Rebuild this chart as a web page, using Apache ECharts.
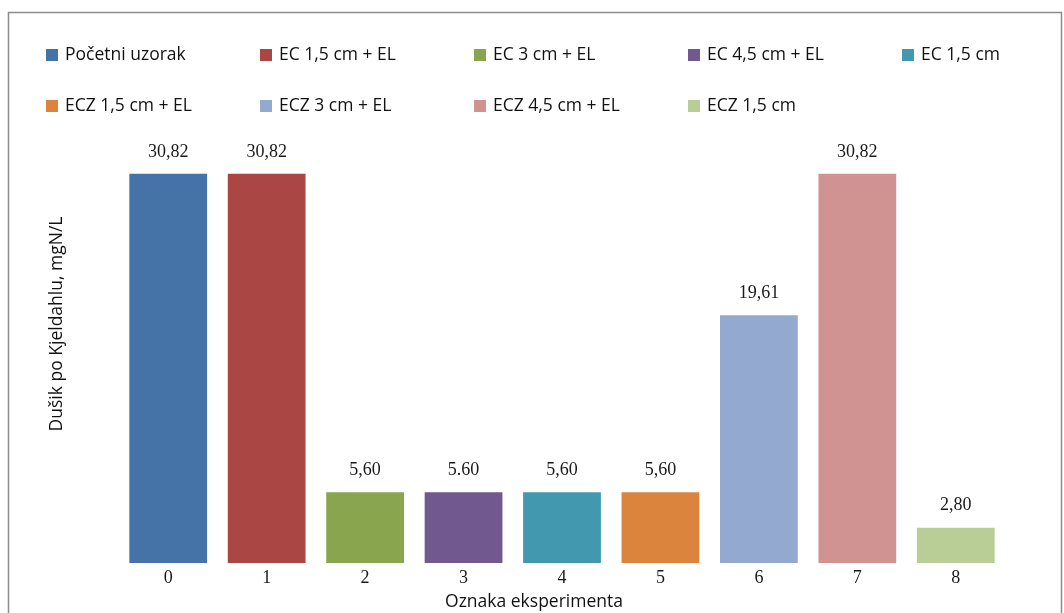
<!DOCTYPE html>
<html>
<head>
<meta charset="utf-8">
<script src="https://cdn.jsdelivr.net/npm/echarts@6/dist/echarts.min.js"></script>
<style>
  html, body { margin: 0; padding: 0; background: #fff; }
  #chart { width: 1064px; height: 613px; }
</style>
</head>
<body>
<div id="chart"></div>
<script>
// Experiment codes on the category axis
const categories = ['0', '1', '2', '3', '4', '5', '6', '7', '8'];
// One series per experiment, in legend order
const seriesNames = [
  'Početni uzorak', 'EC 1,5 cm + EL', 'EC 3 cm + EL', 'EC 4,5 cm + EL', 'EC 1,5 cm',
  'ECZ 1,5 cm + EL', 'ECZ 3 cm + EL', 'ECZ 4,5 cm + EL', 'ECZ 1,5 cm'
];
// Kjeldahl nitrogen, mgN/L
const values = [30.82, 30.82, 5.60, 5.60, 5.60, 5.60, 19.61, 30.82, 2.80];
// Value labels as printed above the bars
const valueLabels = ['30,82', '30,82', '5,60', '5.60', '5,60', '5,60', '19,61', '30,82', '2,80'];
const colors = ['#4572A7', '#AA4643', '#89A54E', '#71588F', '#4198AF',
                '#DB843D', '#93A9CF', '#D19392', '#B9CD96'];

const chart = echarts.init(document.getElementById('chart'));

const sansFont = 'Open Sans';
const serifFont = 'Liberation Serif';
const sansSize = 17.5;

// Fixed-pitch legend grid: five entries per row
const legends = seriesNames.map((name, i) => ({
  data: [name],
  left: 46 + (i % 5) * 214,
  top: 46 + Math.floor(i / 5) * 51,
  icon: 'rect',
  itemWidth: 12,
  itemHeight: 12,
  itemGap: 0,
  padding: 0,
  selectedMode: false,
  textStyle: { fontFamily: sansFont, fontSize: sansSize, color: '#111', padding: [0, 0, 0, 2] }
}));

const series = seriesNames.map((name, i) => ({
  name: name,
  type: 'bar',
  stack: 'all',
  barCategoryGap: '21%',
  data: values.map((v, j) => (j === i ? v : '-')),
  itemStyle: { color: colors[i] },
  label: {
    show: true,
    position: 'top',
    distance: 13,
    fontFamily: serifFont,
    fontSize: 18,
    color: '#1a1a1a',
    formatter: p => valueLabels[p.dataIndex]
  }
}));

chart.setOption({
  animation: false,
  color: colors,
  legend: legends,
  grid: { left: 119, right: 59, top: 121, bottom: 50, containLabel: false },
  xAxis: {
    type: 'category',
    data: categories,
    axisLine: { show: false },
    axisTick: { show: false },
    axisLabel: { margin: 6, fontFamily: serifFont, fontSize: 18, color: '#1a1a1a' }
  },
  yAxis: {
    type: 'value',
    min: 0,
    max: 35,
    show: false,
    splitLine: { show: false }
  },
  graphic: [
    {
      type: 'rect',
      shape: { x: 8.5, y: 12.5, width: 1053, height: 620 },
      style: { fill: 'none', stroke: '#8c8c8c', lineWidth: 1.5 },
      silent: true
    },
    {
      type: 'text',
      x: 57, y: 324,
      rotation: Math.PI / 2,
      style: {
        text: 'Dušik po Kjeldahlu, mgN/L',
        fontFamily: sansFont, fontSize: sansSize, fill: '#111',
        align: 'center', verticalAlign: 'middle'
      }
    },
    {
      type: 'text',
      x: 534, y: 602,
      style: {
        text: 'Oznaka eksperimenta',
        fontFamily: sansFont, fontSize: sansSize, fill: '#111',
        align: 'center', verticalAlign: 'middle'
      }
    }
  ],
  series: series
});
</script>
</body>
</html>
